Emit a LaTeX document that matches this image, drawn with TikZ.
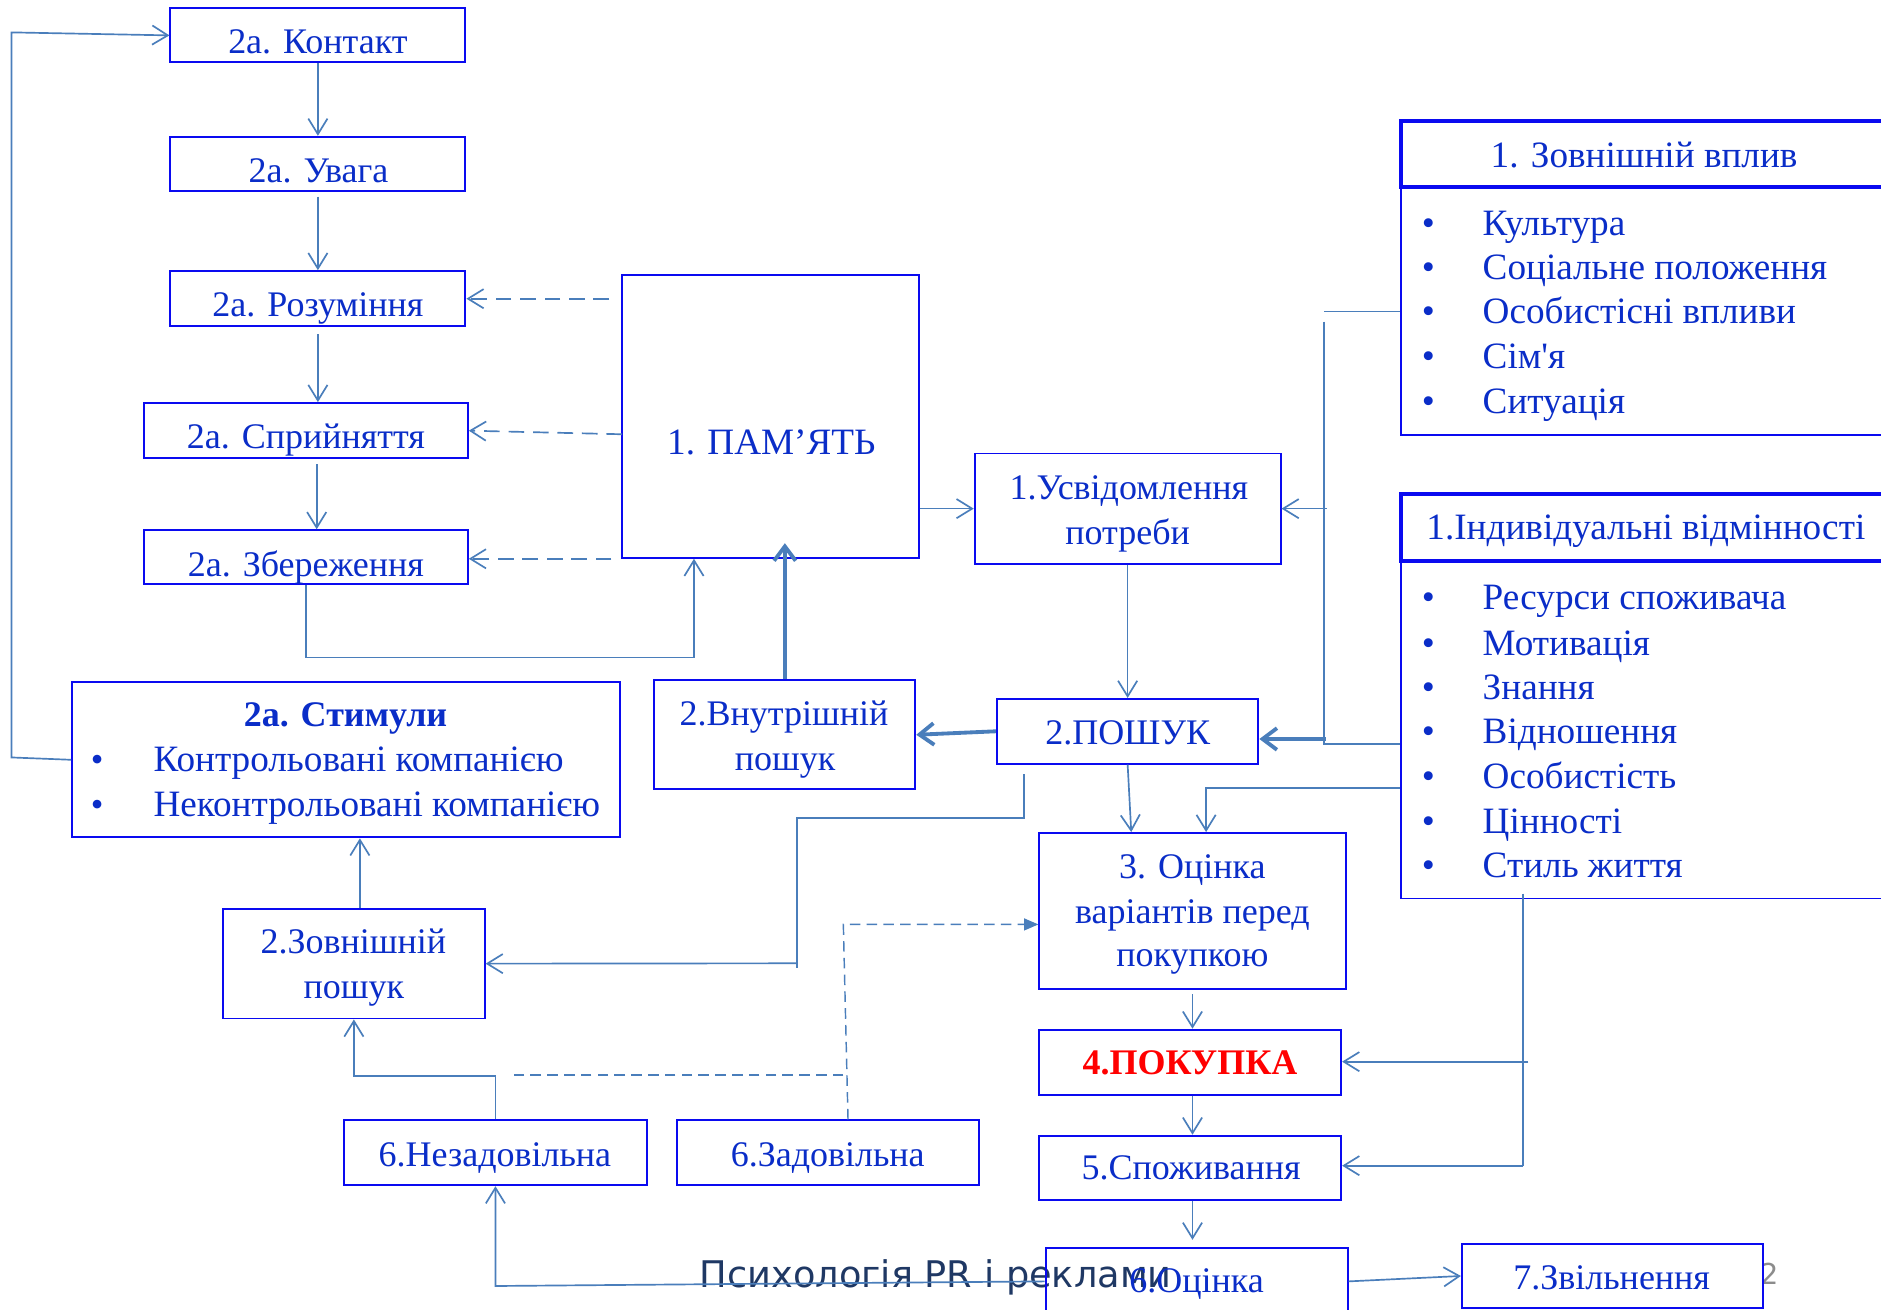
\documentclass[tikz,border=0pt]{standalone}
\usepackage{fontspec}
\setmainfont{Liberation Serif}
\newfontfamily\plainserif{Liberation Serif}
\newfontfamily\footfont{DejaVu Sans}
\usetikzlibrary{arrows.meta,fit,calc}
\definecolor{bx}{RGB}{10,10,240}
\definecolor{tx}{RGB}{10,45,200}
\definecolor{cn}{RGB}{74,126,187}
\definecolor{ft}{RGB}{31,56,100}
\definecolor{pg}{RGB}{140,140,140}
\newcommand\fsA{\fontsize{15}{18}\selectfont}
\newcommand\fsB{\fontsize{15.5}{18}\selectfont}
\begin{document}
\begin{tikzpicture}[x=0.5pt,y=-0.5pt,
 box/.style={draw=bx,line width=0.8pt,inner sep=0pt,rectangle},
 hbox/.style={draw=bx,line width=1.7pt,inner sep=0pt,rectangle},
 txt/.style={inner sep=0pt,anchor=base,text=tx,font=\fsA},
 ltxt/.style={inner sep=0pt,anchor=base west,text=tx,font=\fsB},
 btxt/.style={inner sep=0pt,anchor=base,text=tx,font=\fsB},
 conn/.style={draw=cn,line width=0.7pt},
 arr/.style={conn,-{Straight Barb[length=6.5pt,width=8pt]}},
 thk/.style={draw=cn,line width=1.6pt,-{Straight Barb[length=6pt,width=9pt]}},
 dsh/.style={conn,-{Straight Barb[length=6.5pt,width=8pt]},dash pattern=on 6.5pt off 3.7pt},
 dsh2/.style={draw=cn,line width=0.6pt,dash pattern=on 4.4pt off 2.6pt},
]
\useasboundingbox (0,0) rectangle (1568,1092);
\clip (0,0) rectangle (1568,1092);
\fill[white] (0,0) rectangle (1568,1092);

% ---- footer
\node[inner sep=0pt,anchor=base west,text=ft,font=\footfont\fontsize{15.3}{17}\selectfont] (foot) at (583,1073) {Психологія PR і реклами};
\node[inner sep=0pt,anchor=base,text=pg,font=\footfont\fontsize{12}{14}\selectfont] (pnum) at (1475,1071) {2};

% ---- boxes
\node[box,fit={(142,7) (388,52)}] (kont) {};
\node[box,fit={(142,114) (388,159)}] (uvaha) {};
\node[box,fit={(142,226) (388,272)}] (rozum) {};
\node[box,fit={(120,336) (390,382)}] (spryj) {};
\node[box,fit={(120,442) (390,487)}] (zber) {};
\node[box,fit={(518.5,229) (766,465)}] (pam) {};
\node[box,fit={(812.5,378) (1067.5,470)}] (usv) {};
\node[box,fit={(831,582.6) (1049,636.6)}] (poshuk) {};
\node[box,fit={(545.5,567) (763,658)}] (vnutr) {};
\node[box,fit={(60,568.7) (516.6,698)}] (stim) {};
\node[box,fit={(186,757.6) (404,849)}] (zovn) {};
\node[box,fit={(287,934) (539,988)}] (nezad) {};
\node[box,fit={(564,934) (816,988)}] (zad) {};
\node[box,fit={(866.4,694.4) (1121.7,824.2)}] (ocin) {};
\node[box,fit={(866.4,858.3) (1118,912.5)}] (pokup) {};
\node[box,fit={(866.4,946.7) (1118,1000)}] (spozh) {};
\node[box,fit={(871.6,1040.3) (1123.4,1096)}] (ocins) {};
\node[box,fit={(1218.6,1037) (1469.6,1090.3)}] (zvil) {};
\node[box,fit={(1168,155.6) (1600,362.5)}] (lista) {};
\node[hbox,fit={(1168,101) (1600,155.6)}] (heada) {};
\node[box,fit={(1168,468) (1600,749)}] (listb) {};
\node[hbox,fit={(1168,412) (1600,468)}] (headb) {};

% ---- texts
\node[txt] (tkont) at (265,44.6) {2a. Контакт};
\node[txt] (tuvaha) at (265.5,152) {2a. Увага};
\node[txt] (trozum) at (265,264) {2a. Розуміння};
\node[txt] (tspryj) at (255,374) {2a. Сприйняття};
\node[txt] (tzber) at (255,480.5) {2a. Збереження};
\node[txt,font=\fontsize{15.5}{18}\selectfont] (tpam) at (643,379) {1. ПАМ’ЯТЬ};
\node[txt] (tusva) at (941,416) {1.Усвідомлення};
\node[txt] (tusvb) at (940,454) {потреби};
\node[txt] (tposhuk) at (940,621) {2.ПОШУК};
\node[txt] (tvnutra) at (653.5,605) {2.Внутрішній};
\node[txt] (tvnutrb) at (654.5,642) {пошук};
\node[txt,font=\fsA\bfseries] (tstim) at (288,606) {2a. Стимули};
\node[txt] (bsa) at (81,643.3) {•};
\node[txt] (bsb) at (81,681) {•};
\node[txt,anchor=base west,font=\fsB] (tsa) at (127.6,643.3) {Контрольовані компанією};
\node[txt,anchor=base west,font=\fsB] (tsb) at (127.6,681) {Неконтрольовані компанією};
\node[txt] (tzovna) at (294.6,795) {2.Зовнішній};
\node[txt] (tzovnb) at (295,832.6) {пошук};
\node[txt] (tnezad) at (412.6,972) {6.Незадовільна};
\node[txt] (tzad) at (690,972) {6.Задовільна};
\node[txt] (tocina) at (994,732.5) {3. Оцінка};
\node[txt] (tocinb) at (994,770) {варіантів перед};
\node[txt] (tocinc) at (994,805.6) {покупкою};
\node[txt,text=red,font=\fsA\bfseries] (tpokup) at (992,895.8) {4.ПОКУПКА};
\node[txt] (tspozh) at (993,983.3) {5.Споживання};
\node[txt] (tocins) at (997.5,1077) {6.Оцінка};
\node[txt] (tzvil) at (1343.5,1075) {7.Звільнення};
\node[btxt] (theada) at (1370.5,140) {1. Зовнішній вплив};
\node[btxt] (theadb) at (1372,450) {1.Індивідуальні відмінності};
\foreach \y/\t [count=\i] in {196/Культура,233/Соціальне положення,270/Особистісні впливи,307.4/{\plainserif\fsB Сім'я},345/Ситуація}{
  \node[btxt] (ba\i) at (1190.7,\y) {•};
  \node[ltxt] (la\i) at (1235.6,\y) {\t};
}
\foreach \y/\t [count=\i] in {508.4/Ресурси споживача,546/Мотивація,583/Знання,620/Відношення,657/Особистість,694.8/Цінності,731.7/Стиль життя}{
  \node[btxt] (bb\i) at (1190.7,\y) {•};
  \node[ltxt] (lb\i) at (1235.6,\y) {\t};
}

% ---- junction coordinates
\coordinate (jl) at (9.6,631.4);
\coordinate (jt) at (9.6,27);
\coordinate (ra) at (1103.4,259.7);
\coordinate (rb) at (1103.4,268);
\coordinate (rc) at (1103.4,620);
\coordinate (rd) at (1106,424);
\coordinate (re) at (1105,616);
\coordinate (zb) at (578.5,548);
\coordinate (pa) at (853.7,681.7);
\coordinate (pb) at (664.5,807);
\coordinate (pc) at (664.5,803);
\coordinate (ia) at (1005.4,657);
\coordinate (na) at (295,897);
\coordinate (da) at (703,770.6);
\coordinate (db) at (703,896);
\coordinate (dc) at (425,896);
\coordinate (va) at (1269.7,745);
\coordinate (vb) at (1269.7,971.7);
\coordinate (vc) at (1274,885);
\coordinate (oa) at (413,1072);
\coordinate (ps) at (518.5,362);

% ---- connectors
\draw[arr] (stim.west) -- (jl) -- (jt) -- (kont.west);
\draw[arr] (kont.south) -- (uvaha.north);
\draw[arr,shorten <=2pt] (uvaha.south) -- (rozum.north);
\draw[arr,shorten <=3pt] (rozum.south) -- (rozum.south |- spryj.north);
\draw[arr,shorten <=2pt] ($(spryj.south)+(9,0)$) -- ($(zber.north)+(9,0)$);
\draw[dsh,shorten <=5pt] (pam.west |- rozum.east) -- (rozum.east);
\draw[dsh] (ps) -- (spryj.east);
\draw[dsh,shorten <=4pt] (pam.south west) -- (zber.east |- pam.south west);
\draw[arr] (zber.south) |- (zb) -- (578.5,548 |- pam.south);
\draw[thk] (vnutr.north) -- ([yshift=6.5pt]pam.south -| vnutr.north);
\draw[arr] (pam.east |- usv.west) -- (usv.west);
\draw[conn] (lista.west |- ra) -- (ra);
\draw[conn] (rb) -- (rc) -- (listb.west |- rc);
\draw[arr] (rd) -- (usv.east);
\draw[thk] (re) -- (poshuk.east |- re);
\draw[arr] (usv.south) -- (poshuk.north);
\draw[thk] (poshuk.west) -- (vnutr.east);
\draw[arr] (poshuk.south) -- (ocin.north -| 943,0);
\draw[arr] (listb.west |- ia) -- (ia) -- (ocin.north -| ia);
\draw[conn,shorten <=4pt] (poshuk.south -| pa) -- (pa) -| (pb);
\draw[arr] (pc) -- (zovn.east);
\draw[arr] (zovn.north -| 300,0) -- (stim.south -| 300,0);
\draw[arr] (nezad.north) |- (na) -- (zovn.south);
\draw[draw=cn,line width=0.6pt,dash pattern=on 4.4pt off 2.6pt,-{Triangle[length=6pt,width=5pt]}] (zad.north -| 706.9,0) -- (da) -- (ocin.west |- da);
\draw[dsh2] (db) -- (dc);
\draw[arr,shorten <=2pt] (ocin.south) -- (ocin.south |- pokup.north);
\draw[arr] (pokup.south -| ocin.south) -- (spozh.north -| ocin.south);
\draw[arr] (spozh.south -| ocin.south) -- ([yshift=3pt]ocins.north -| ocin.south);
\draw[conn] (va) -- (vb);
\draw[arr] (vb) -- (spozh.east |- vb);
\draw[arr] (vc) -- (pokup.east |- vc);
\draw[arr] (ocins.east) -- (zvil.west);
\draw[arr] (ocins.west) -- (oa) -- (nezad.south);
\end{tikzpicture}
\end{document}
